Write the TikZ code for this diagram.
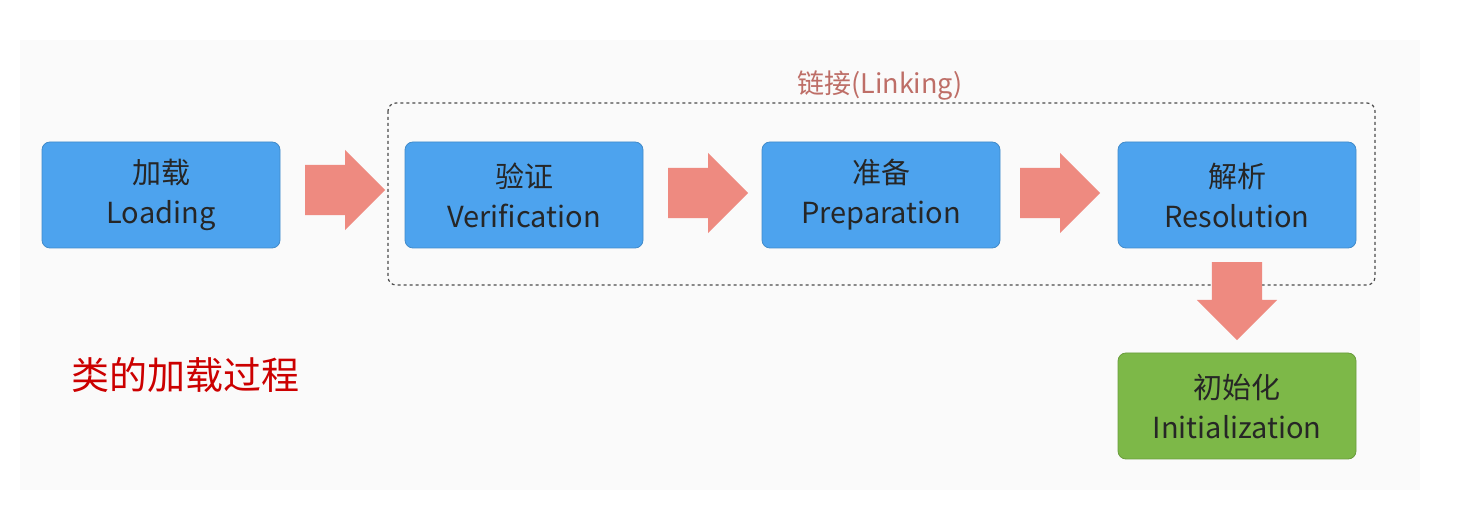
\documentclass[tikz,border=0pt]{standalone}
\usepackage{fontspec}
\setmainfont{Noto Sans CJK SC}
\usetikzlibrary{shapes.arrows}
\definecolor{boxblue}{HTML}{4DA3EE}
\definecolor{boxgreen}{HTML}{7DB848}
\definecolor{arr}{HTML}{EE8A80}
\begin{document}
\begin{tikzpicture}[x=1pt,y=-1pt,
  stage/.style={draw=boxblue!85!black,line width=0.8pt,fill=boxblue,rounded corners=8pt,minimum width=238pt,minimum height=106pt,align=center,text=black!85,font=\fontsize{29}{40}\selectfont},
  blk/.style={single arrow,fill=arr,draw=none,minimum height=80pt,minimum width=80pt,inner xsep=0pt,inner ysep=25pt,single arrow head extend=15pt,anchor=tail}]
\useasboundingbox (0,0) rectangle (1468,510);
\fill[black!2] (20,40) rectangle (1420,490);
\node[stage] (load) at (161,195) {加载\\Loading};
\node[stage] (ver) at (524,195) {验证\\Verification};
\node[stage] (prep) at (881,195) {准备\\Preparation};
\node[stage] (res) at (1237,195) {解析\\Resolution};
\node[stage,fill=boxgreen,draw=boxgreen!85!black] (init) at (1237,406) {初始化\\Initialization};
\draw[dashed,line width=1.2pt,black!70,rounded corners=8pt] (388,103) rectangle (1375,285);
\node[text=arr!80!black,font=\fontsize{27}{30}\selectfont] (lk) at (880,85) {链接(Linking)};
\node[text=red!80!black,font=\fontsize{38}{44}\selectfont,anchor=west] (title) at (68,375) {类的加载过程};
\node[blk] (a1) at (305,190) {};
\node[blk] (a2) at (668,193) {};
\node[blk] (a3) at (1020,193) {};
\node[blk,minimum height=78pt,rotate=-90] (a4) at (1237,262) {};
\end{tikzpicture}
\end{document}
